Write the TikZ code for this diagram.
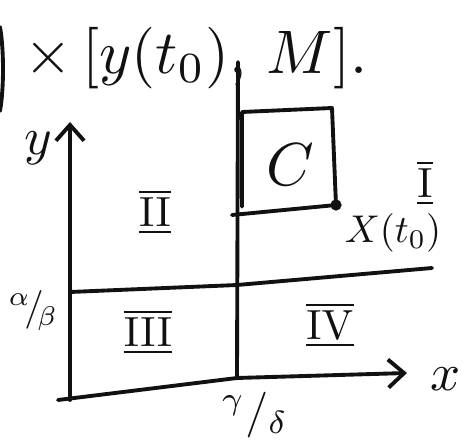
\documentclass[tikz,border=0pt]{standalone}
\usepackage{amsmath,amssymb}
\usepackage{xcolor}
\usepackage{tikz}
\usetikzlibrary{arrows.meta,calc,positioning}
\definecolor{inkblack}{HTML}{111111}
\tikzset{
  inkline/.style={line width=2.2pt,inkblack,line cap=round,line join=round},
  inkaxis/.style={inkline,-{Straight Barb[length=9pt,width=16pt,line width=2.2pt]}},
  region/.style={inkblack,scale=2.4,inner sep=0pt},
  handlabel/.style={inkblack,scale=3.0,inner sep=0pt}
}
\newcommand{\regnum}[1]{$\underline{\overline{\mathrm{#1}}}$}

\begin{document}
\begin{tikzpicture}[scale=1.0]
  \useasboundingbox (0,0) rectangle (9.34,8.88);
  % axes and corner points
  \coordinate (origin) at (1.16,0.88);
  \coordinate (ybase) at (1.40,0.88);
  \coordinate (ytip) at (1.40,6.44);
  \coordinate (gamma) at (4.74,1.32);
  \coordinate (gtop) at (4.76,7.64);
  \coordinate (xtip) at (8.14,1.42);
  \coordinate (alpha) at (1.40,3.04);
  \coordinate (mid) at (4.74,3.18);
  \coordinate (mend) at (8.64,3.52);
  \draw[inkaxis] (ybase) -- (ytip);
  \draw[inkline] (origin) -- (gamma);
  \draw[inkaxis] (gamma) -- (xtip);
  \draw[inkline] (gamma) -- (gtop);
  \draw[inkline] (alpha) -- (mid) -- (mend);
  % the box C
  \coordinate (ctl) at (4.84,6.64);
  \coordinate (ctr) at (6.64,6.72);
  \coordinate (cbr) at (6.72,4.78);
  \coordinate (cbl) at (4.64,4.58);
  \draw[inkline] (cbl) -- (cbr) -- (ctr) -- (ctl) -- ($(ctl)!0.92!(4.84,4.58)$);
  \fill[inkblack] (cbr) circle (3.2pt);
  \node[handlabel,scale=1.15] (cname) at (5.80,5.58) {$C$};
  \node[inkblack,scale=2.2,inner sep=0pt] (xt0) at (7.86,4.22) {$X(t_0)$};
  % regions
  \node[region] (r1) at (8.50,5.22) {\regnum{I}};
  \node[region] (r2) at (3.10,4.64) {\regnum{II}};
  \node[region] (r3) at (2.96,2.24) {\regnum{III}};
  \node[region] (r4) at (6.60,2.38) {\regnum{IV}};
  % axis labels
  \node[handlabel] (ylab) at (0.76,5.92) {$y$};
  \node[handlabel] (xlab) at (8.92,1.30) {$x$};
  \node[inkblack,scale=2.2,inner sep=0pt,anchor=east] (ab) at (1.18,2.66) {$^{\alpha}\mkern-3mu/\mkern-3mu_{\beta}$};
  \node[inkblack,scale=2.6,inner sep=0pt] (gd) at (5.10,0.58) {$^{\gamma}/_{\delta}$};
  % heading, cut off at the left
  \draw[inkline] (0,8.34) .. controls (0.08,7.9) and (0.08,7.1) .. (0,6.66);
  \node[inkblack,scale=3.5,anchor=west,inner sep=0pt] (head) at (0.46,7.72) {$\times\,[y(t_0),\,M].$};
\end{tikzpicture}
\end{document}
